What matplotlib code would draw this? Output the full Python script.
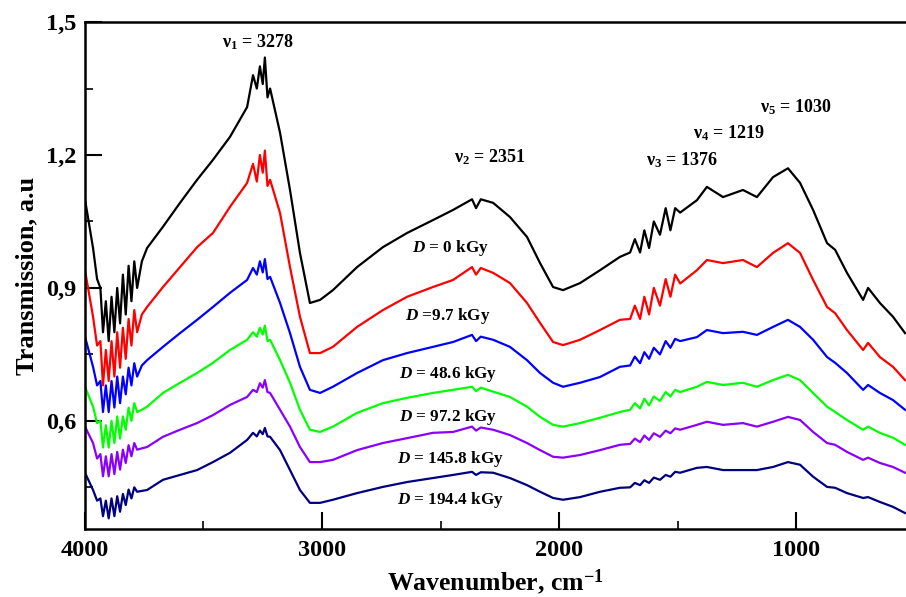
import numpy as np
import matplotlib
matplotlib.use("Agg")
import matplotlib.pyplot as plt
from matplotlib.ticker import FixedLocator, FuncFormatter

plt.rcParams['font.family'] = ['Liberation Serif', 'DejaVu Serif']
plt.rcParams['font.weight'] = 'bold'
plt.rcParams['mathtext.fontset'] = 'custom'
plt.rcParams['mathtext.rm'] = 'Liberation Serif:bold'
plt.rcParams['mathtext.it'] = 'Liberation Serif:italic:bold'
plt.rcParams['mathtext.bf'] = 'Liberation Serif:bold'
plt.rcParams['mathtext.default'] = 'regular'

# wavenumber grid (cm-1), shared by all spectra
wavenumber = [4000, 3966, 3949, 3935, 3924, 3912, 3900, 3888, 3876, 3864,
              3852, 3840, 3828, 3816, 3804, 3792, 3780, 3760, 3738, 3671,
              3599, 3527, 3460, 3388, 3316, 3291, 3275, 3262, 3250, 3241,
              3230, 3219, 3177, 3135, 3093, 3051, 3008, 2954, 2852, 2743,
              2641, 2532, 2447, 2367, 2350, 2330, 2278, 2207, 2135, 2080,
              2025, 1983, 1911, 1827, 1743, 1700, 1680, 1658, 1640, 1620,
              1600, 1574, 1550, 1530, 1510, 1489, 1418, 1376, 1308, 1224,
              1165, 1097, 1034, 983, 928, 869, 835, 785, 717, 696,
              646, 591, 540]

t_0 = [1.10, 0.99, 0.92, 0.90, 0.80, 0.87, 0.78, 0.88, 0.80, 0.90,
       0.82, 0.93, 0.84, 0.95, 0.87, 0.96, 0.90, 0.96, 0.99, 1.038,
       1.092, 1.144, 1.189, 1.241, 1.308, 1.38, 1.35, 1.40, 1.36, 1.42,
       1.33, 1.35, 1.25, 1.121, 0.979, 0.866, 0.873, 0.895, 0.947, 0.992,
       1.024, 1.053, 1.076, 1.10, 1.08, 1.10, 1.092, 1.06, 1.015, 0.956,
       0.902, 0.895, 0.911, 0.94, 0.97, 0.98, 1.01, 0.98, 1.03, 0.99,
       1.05, 1.02, 1.08, 1.03, 1.08, 1.07, 1.098, 1.128, 1.105, 1.121,
       1.105, 1.15, 1.17, 1.137, 1.076, 1.001, 0.986, 0.934, 0.873, 0.90,
       0.866, 0.835, 0.798]

t_9_7 = [0.94, 0.835, 0.77, 0.78, 0.68, 0.76, 0.69, 0.78, 0.70, 0.80,
         0.72, 0.81, 0.74, 0.83, 0.77, 0.85, 0.80, 0.84, 0.857, 0.902,
         0.947, 0.992, 1.024, 1.083, 1.137, 1.18, 1.14, 1.20, 1.16, 1.21,
         1.13, 1.144, 1.069, 0.947, 0.835, 0.753, 0.753, 0.767, 0.812, 0.85,
         0.88, 0.902, 0.918, 0.947, 0.93, 0.945, 0.934, 0.911, 0.866, 0.821,
         0.778, 0.771, 0.783, 0.805, 0.828, 0.83, 0.86, 0.83, 0.88, 0.84,
         0.90, 0.86, 0.92, 0.88, 0.93, 0.91, 0.94, 0.963, 0.956, 0.963,
         0.947, 0.979, 1.001, 0.979, 0.918, 0.857, 0.843, 0.805, 0.76, 0.776,
         0.744, 0.722, 0.692]

t_48_6 = [0.79, 0.722, 0.68, 0.69, 0.62, 0.68, 0.62, 0.69, 0.63, 0.70,
          0.64, 0.70, 0.66, 0.72, 0.68, 0.73, 0.70, 0.725, 0.737, 0.767,
          0.798, 0.828, 0.857, 0.889, 0.918, 0.945, 0.93, 0.96, 0.935, 0.965,
          0.92, 0.925, 0.866, 0.798, 0.722, 0.67, 0.663, 0.677, 0.708, 0.737,
          0.753, 0.767, 0.778, 0.794, 0.78, 0.79, 0.783, 0.767, 0.737, 0.708,
          0.686, 0.677, 0.686, 0.699, 0.722, 0.725, 0.745, 0.73, 0.755, 0.74,
          0.765, 0.75, 0.78, 0.765, 0.785, 0.78, 0.789, 0.805, 0.798, 0.801,
          0.794, 0.812, 0.828, 0.812, 0.783, 0.744, 0.731, 0.708, 0.67, 0.681,
          0.663, 0.647, 0.625]

t_97_2 = [0.677, 0.632, 0.595, 0.60, 0.54, 0.59, 0.54, 0.60, 0.55, 0.61,
          0.56, 0.61, 0.58, 0.63, 0.60, 0.64, 0.62, 0.625, 0.632, 0.663,
          0.686, 0.708, 0.731, 0.76, 0.783, 0.80, 0.79, 0.81, 0.795, 0.815,
          0.78, 0.783, 0.737, 0.686, 0.625, 0.58, 0.575, 0.587, 0.618, 0.64,
          0.652, 0.663, 0.67, 0.677, 0.667, 0.675, 0.666, 0.654, 0.632, 0.609,
          0.591, 0.587, 0.595, 0.607, 0.62, 0.625, 0.64, 0.628, 0.65, 0.635,
          0.655, 0.645, 0.665, 0.655, 0.67, 0.665, 0.677, 0.688, 0.681, 0.686,
          0.677, 0.692, 0.704, 0.692, 0.663, 0.632, 0.62, 0.602, 0.58, 0.587,
          0.573, 0.562, 0.546]

t_145_8 = [0.587, 0.55, 0.515, 0.525, 0.475, 0.52, 0.475, 0.525, 0.48, 0.53,
           0.49, 0.535, 0.505, 0.545, 0.52, 0.55, 0.535, 0.538, 0.541, 0.564,
           0.58, 0.595, 0.613, 0.636, 0.654, 0.67, 0.665, 0.685, 0.675, 0.692,
           0.665, 0.663, 0.625, 0.587, 0.541, 0.507, 0.507, 0.512, 0.534, 0.55,
           0.561, 0.573, 0.575, 0.587, 0.578, 0.585, 0.58, 0.568, 0.55, 0.534,
           0.519, 0.517, 0.523, 0.534, 0.546, 0.548, 0.56, 0.552, 0.567, 0.557,
           0.572, 0.564, 0.578, 0.572, 0.583, 0.58, 0.591, 0.598, 0.591, 0.595,
           0.587, 0.598, 0.609, 0.602, 0.575, 0.55, 0.546, 0.53, 0.512, 0.517,
           0.505, 0.496, 0.483]

t_194_4 = [0.483, 0.444, 0.42, 0.425, 0.385, 0.42, 0.38, 0.425, 0.385, 0.43,
           0.395, 0.435, 0.41, 0.445, 0.425, 0.45, 0.44, 0.442, 0.444, 0.467,
           0.478, 0.489, 0.507, 0.528, 0.557, 0.573, 0.565, 0.578, 0.57, 0.584,
           0.565, 0.564, 0.534, 0.489, 0.444, 0.415, 0.415, 0.422, 0.437, 0.451,
           0.462, 0.471, 0.478, 0.485, 0.478, 0.484, 0.483, 0.471, 0.455, 0.44,
           0.426, 0.422, 0.428, 0.44, 0.449, 0.45, 0.46, 0.455, 0.466, 0.46,
           0.472, 0.467, 0.478, 0.474, 0.485, 0.483, 0.494, 0.496, 0.489, 0.489,
           0.489, 0.496, 0.507, 0.501, 0.474, 0.451, 0.449, 0.437, 0.426, 0.428,
           0.417, 0.406, 0.392]

spectra = [t_0, t_9_7, t_48_6, t_97_2, t_145_8, t_194_4]
colors = ['black', '#ff0000', '#0000ff', '#00ff00', '#8a00ff', '#000080']
dose_labels = [r'$\mathit{D}$ = 0 kGy', r'$\mathit{D}$ =9.7 kGy', r'$\mathit{D}$ = 48.6 kGy',
               r'$\mathit{D}$ = 97.2 kGy', r'$\mathit{D}$ = 145.8 kGy', r'$\mathit{D}$ = 194.4 kGy']
dose_pos = [(2460, 0.99), (2468, 0.837), (2468, 0.706), (2468, 0.609), (2460, 0.514), (2460, 0.422)]

band_labels = [r'ν$_1$ = 3278', r'ν$_2$ = 2351', r'ν$_3$ = 1376', r'ν$_4$ = 1219', r'ν$_5$ = 1030']
band_pos = [(3270, 1.455), (2291, 1.195), (1481, 1.189), (1283, 1.25), (1000, 1.308)]

fig = plt.figure(figsize=(9.06, 5.97), dpi=100)
ax = fig.add_axes([0.0938, 0.1139, 0.9062, 0.8492])

for y, c in zip(spectra, colors):
    ax.plot(wavenumber, y, color=c, lw=1.6)

for txt, (x, y) in zip(dose_labels, dose_pos):
    ax.text(x, y, txt, ha='center', va='center', fontsize=12.3, fontweight='bold')
for txt, (x, y) in zip(band_labels, band_pos):
    ax.text(x, y, txt, ha='center', va='center', fontsize=13, fontweight='bold')

ax.set_xlim(4000, 536)
ax.set_ylim(0.356, 1.5)
ax.xaxis.set_major_locator(FixedLocator([4000, 3000, 2000, 1000]))
ax.xaxis.set_minor_locator(FixedLocator([3500, 2500, 1500]))
ax.yaxis.set_major_locator(FixedLocator([0.6, 0.9, 1.2, 1.5]))
ax.yaxis.set_minor_locator(FixedLocator([0.45, 0.75, 1.05, 1.35]))
ax.yaxis.set_major_formatter(FuncFormatter(lambda v, p: f'{v:.1f}'.replace('.', ',')))
ax.tick_params(which='major', direction='in', length=12, width=1.5, labelsize=17.5, pad=6)
ax.tick_params(which='minor', direction='in', length=6, width=1.2)
ax.tick_params(axis='x', pad=8)
for lab in ax.get_xticklabels() + ax.get_yticklabels():
    lab.set_fontweight('bold')

for s in ['left', 'bottom', 'top']:
    ax.spines[s].set_linewidth(1.8)
ax.spines['right'].set_visible(False)

ax.set_xlabel('Wavenumber, cm$^{-1}$', fontsize=18.5, fontweight='bold', labelpad=4)
ax.set_ylabel('Transmission, a.u', fontsize=19, fontweight='bold', labelpad=6)

fig.savefig('out.png', dpi=100)
